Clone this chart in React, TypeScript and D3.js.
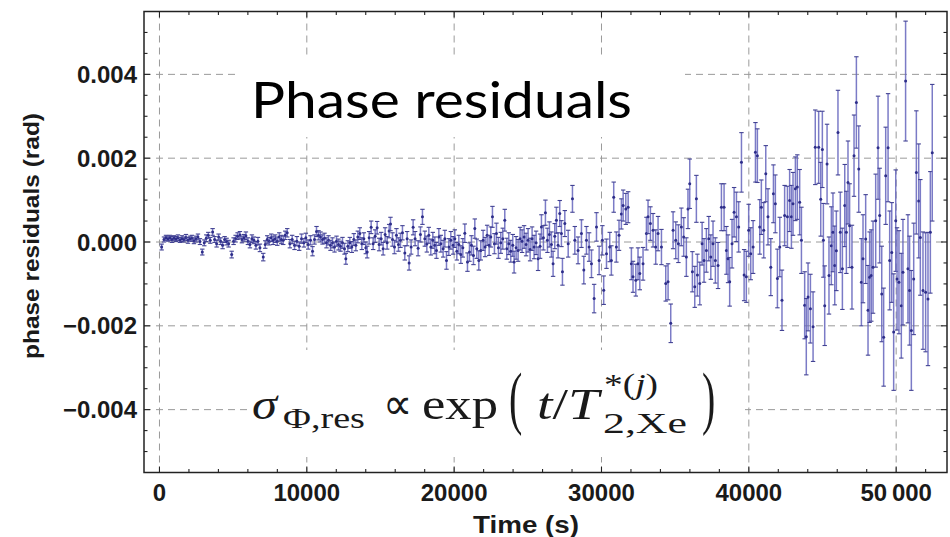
import React from "react";
import * as d3 from "d3";

const xTickValues = [0, 10000, 20000, 30000, 40000, 50000];
const xTickLabels = ["0", "10000", "20000", "30000", "40000", "50\u2009000"];
const yTickValues = [-0.004, -0.002, 0, 0.002, 0.004];
const yTickLabels = ["\u22120.004", "\u22120.002", "0.000", "0.002", "0.004"];

// [time (s), residual (1e-4 rad), sigma (1e-4 rad)]
const pointsEarly: [number, number, number][] = [
  [147,-1.2,0.7],[306,0.6,0.6],[441,1.0,0.6],[577,0.8,0.6],[713,1.0,0.6],[848,0.6,0.7],[984,0.9,0.6],[1120,0.7,0.6],[1255,1.0,0.7],[1391,0.5,0.6],[1527,0.8,0.7],[1662,0.6,0.6],[1798,1.1,0.7],[1934,0.4,0.7],[2069,0.8,0.6],[2205,0.9,0.7],[2340,0.3,0.7],[2476,0.7,0.7],[2612,1.2,0.7],[2747,0.1,0.7],[2906,-2.4,0.7],[3041,-0.2,0.7],[3177,0.9,0.8],[3313,1.6,0.7],[3448,0.4,0.7],[3607,2.4,0.8],[3742,0.6,0.7],[3878,-0.4,0.8],[4014,1.2,0.7],[4149,0.2,0.8],[4285,-0.8,0.8],[4421,0.6,0.7],[4556,0.1,0.8],[4692,-0.4,0.8],[4900,-3.0,0.8],[5031,0.2,0.8],[5167,0.8,0.8],[5302,1.4,0.8],[5460,1.7,0.8],[5596,0.6,0.8],[5732,1.0,0.8],[5867,1.5,0.9],[6003,0.2,0.8],[6139,-0.6,0.8],[6274,0.8,0.9],[6410,0.4,0.8],[6546,-0.8,0.9],[6682,0.2,0.9],[6817,-1.4,0.9],[7043,-3.6,0.9],[7179,-0.6,0.9],[7315,0.6,0.9],[7450,0.2,0.9],[7586,1.0,0.9],[7722,0.4,1.0],[7857,0.8,0.9],[7993,0.2,1.0],[8129,1.2,1.0],[8264,0.6,1.0],[8400,0.4,1.0],[8536,1.6,1.0],[8671,2.2,1.0],
];
const pointsSecond: [number, number, number][] = [
  [8850,-0.4,1.0],[9008,0.6,1.0],[9167,-0.8,1.0],[9325,0.2,1.1],[9483,-1.0,1.0],[9641,0.8,1.1],[9800,-0.2,1.0],[9935,1.0,1.1],[10094,-0.6,1.1],[10252,0.4,1.1],[10387,-2.2,1.1],[10523,0.6,1.1],[10659,2.5,1.2],[10794,1.6,1.1],[10930,1.2,1.2],[11066,0.6,1.1],[11201,0.9,1.2],[11337,-0.2,1.2],[11473,0.4,1.1],[11608,-0.8,1.2],[11744,-0.2,1.2],[11880,-1.2,1.2],[12015,0.2,1.2],[12151,-0.6,1.3],[12287,-1.0,1.2],[12422,-0.2,1.3],[12558,-1.6,1.3],[12648,-4.0,1.3],[12784,-1.0,1.3],[12920,-0.2,1.3],[13055,-1.2,1.3],[13191,0.6,1.4],[13327,-0.8,1.3],[13462,1.2,1.4],[13598,2.0,1.4],[13734,-0.4,1.4],[13869,0.8,1.4],[14005,-1.4,1.4],[14096,-2.4,1.4],[14231,1.0,1.5],[14367,3.5,1.5],[14503,-0.4,1.4],[14638,1.4,1.5],[14774,3.4,1.5],[14909,-0.6,1.5],[15045,0.8,1.5],[15181,-1.6,1.5],[15316,1.8,1.6],[15452,-0.2,1.5],[15588,2.6,1.6],[15678,4.3,1.6],[15814,0.6,1.6],[15950,-1.2,1.6],[16085,1.6,1.6],[16221,-0.6,1.6],[16357,0.4,1.7],[16492,2.2,1.7],[16650,-2.6,1.7],[16809,0.8,1.7],[16944,-5.0,1.7],[17080,-1.2,1.7],[17216,3.5,1.8],[17351,0.8,1.7],[17555,-1.5,1.8],[17713,1.8,1.8],[17849,6.0,1.8],
];
const pointsThird: [number, number, number][] = [
  [18010,0.8,1.8],[18146,-0.5,1.9],[18281,1.6,1.9],[18417,-1.2,1.9],[18553,0.4,1.9],[18688,-0.8,2.0],[18801,-2.0,1.9],[18960,1.2,2.0],[19095,-0.4,2.0],[19254,-1.6,2.0],[19367,0.8,2.0],[19480,-4.4,2.1],[19638,-1.2,2.0],[19774,0.4,2.1],[19932,-0.8,2.1],[20045,0.8,2.1],[20181,-2.2,2.1],[20316,-0.6,2.2],[20452,-3.0,2.1],[20588,-1.4,2.2],[20723,2.1,2.2],[20904,-4.8,2.2],[21040,-2.4,2.2],[21175,-0.8,2.3],[21311,-3.2,2.2],[21402,3.2,2.3],[21537,-1.6,2.3],[21673,-4.4,2.3],[21808,-2.0,2.3],[21967,0.4,2.4],[22102,-1.2,2.3],[22238,1.6,2.4],[22374,-0.8,2.4],[22487,1.2,2.4],[22600,6.0,2.5],[22735,-0.4,2.4],[22871,2.0,2.5],[23007,-1.4,2.5],[23165,-0.2,2.5],[23301,0.8,2.5],[23436,5.2,2.6],[23572,-1.6,2.5],[23708,-0.4,2.6],[23843,-2.2,2.6],[23979,-0.8,2.6],[24069,-4.8,2.6],[24205,-1.4,2.7],[24341,-2.0,2.6],[24476,0.8,2.7],[24612,0.2,2.7],[24748,1.2,2.7],[24883,-0.6,2.7],[25019,0.4,2.8],[25155,-1.8,2.7],[25290,0.8,2.8],[25426,-1.2,2.8],[25562,-0.2,2.8],[25697,-4.0,2.8],[25833,-1.0,2.9],[25924,3.6,2.9],[26059,1.0,2.9],[26195,7.0,3.0],[26331,0.4,2.9],[26466,1.8,3.0],[26602,-0.6,3.0],[26715,-5.2,3.0],[26828,1.4,3.0],[26941,5.2,3.1],[27054,-0.8,3.0],[27167,6.8,3.1],
];
const pointsFourth: [number, number, number][] = [
  [27280,2.0,3.1],[27350,-7.1,3.2],[27510,4.4,3.1],[27740,-0.4,3.2],[28030,10.3,3.2],[28190,0.4,3.3],[28410,-2.0,3.2],[28640,2.0,3.3],[28800,-6.7,3.3],[28980,0.4,3.3],[29160,-1.2,3.4],[29320,-5.2,3.3],[29500,-13.5,3.4],[29660,3.6,3.4],[29840,-4.4,3.4],[30060,0.4,3.5],[30150,-11.5,3.4],[30340,-2.8,3.5],[30560,-1.2,3.5],[30670,-4.4,3.5],[30830,10.7,3.6],[31010,-1.2,3.6],[31190,1.6,3.6],[31350,6.7,3.6],[31470,8.7,3.7],[31650,7.9,3.7],[31810,8.3,3.7],[32030,-5.2,3.8],[32140,-8.3,3.7],[32330,-9.1,3.8],[32480,-5.2,3.8],[32600,-7.5,3.9],[32820,-5.2,3.9],[33050,2.0,3.9],[33160,6.0,4.0],[33320,4.4,4.0],[33500,2.8,4.0],[33680,-1.2,4.1],[33840,2.0,4.1],[34070,-1.2,4.2],[34360,-9.9,4.2],[34520,-9.5,4.3],[34700,-19.4,4.6],[34860,2.8,4.4],[35040,0.4,4.4],[35220,-0.4,4.5],[35420,3.6,4.5],[35580,1.2,4.6],[35760,-3.6,4.6],[35870,7.9,4.7],[35990,13.9,5.9],[36170,-7.1,4.8],[36330,-10.7,4.9],
];
const pointsFifth: [number, number, number][] = [
  [36440,10.3,5.6],[36510,-7.9,5.0],[36670,-9.9,5.1],[36830,-0.4,5.1],[36960,-4.4,5.2],[37120,-2.0,5.2],[37280,0.8,5.3],[37420,-3.6,5.3],[37570,-0.4,5.4],[37730,-4.4,5.4],[37910,-5.6,5.5],[38140,8.3,5.6],[38320,8.3,5.6],[38480,-2.0,5.7],[38590,-4.0,5.7],[38700,-9.5,5.8],[38860,-0.4,5.8],[39000,7.1,5.9],[39160,6.0,5.9],[39310,3.6,6.0],[39500,19.0,7.1],[39680,-7.9,6.1],[39830,-8.3,6.1],[39990,2.8,6.2],[40130,-2.8,6.2],[40290,-1.2,6.3],[40450,21.4,7.1],[40580,20.6,6.4],[40740,3.6,6.5],[40850,8.3,6.5],[41010,2.8,6.6],[41150,16.3,6.7],[41300,6.0,6.7],[41490,-6.0,6.8],[41670,11.5,6.9],[41800,9.1,6.9],[41940,-8.7,7.0],[42100,-1.2,7.1],[42250,-13.9,7.2],[42430,6.3,7.2],[42620,6.0,7.3],[42770,9.9,7.4],[42890,6.0,7.5],[43000,9.1,7.5],[43160,12.7,7.6],[43290,13.1,7.7],[43450,9.5,7.8],[43570,0.4,7.9],[43790,-15.1,8.0],[43900,-22.6,9.1],[44020,-13.1,8.1],[44180,-15.9,8.2],[44360,-20.2,8.3],[44510,22.6,8.9],[44740,22.6,8.6],[45060,0.4,8.8],
];
const pointsLate: [number, number, number][] = [
  [44880,10.2,8.8],[44990,22.1,9.1],[45150,-15.2,9.5],[45310,18.6,9.5],[45440,-8.0,9.2],[45600,-0.9,9.3],[45710,2.3,9.4],[45830,-5.6,9.4],[45940,-2.1,9.5],[46050,26.1,10.1],[46210,2.3,9.6],[46350,-6.4,9.7],[46510,8.7,9.8],[46620,2.3,9.8],[46730,14.2,9.9],[46840,3.9,10.0],[47000,-6.0,10.0],[47140,20.6,9.7],[47300,33.3,10.9],[47460,17.4,10.3],[47640,-9.6,10.4],[47750,-4.0,10.5],[47930,0.7,10.6],[48090,-16.3,10.7],[48200,-8.4,10.8],[48310,-8.0,10.9],[48430,-6.0,11.0],[48610,5.1,11.1],[48770,22.5,12.3],[48880,6.3,11.3],[49020,-12.4,11.4],[49150,-22.7,11.7],[49290,15.8,11.6],[49450,22.5,12.9],[49560,-4.4,11.8],[49700,-2.5,11.9],[49830,-21.5,13.9],[49970,5.1,12.1],[50060,-8.8,12.2],[50190,-9.6,12.3],[50350,-15.2,12.5],[50460,-7.2,12.6],[50640,38.4,14.3],[50800,-6.4,12.9],[50910,-11.6,13.0],[51030,-21.1,14.3],[51190,-8.8,13.3],[51370,16.6,14.7],[51530,9.8,13.6],[51640,1.1,13.8],[51820,-11.6,14.0],[52000,-12.0,14.2],[52160,-13.6,15.9],[52320,2.3,14.5],[52450,21.3,16.3],
];

const FONT = "'Liberation Sans', Arial, sans-serif";
const SERIF = "'Liberation Serif', 'Times New Roman', serif";

export default function App() {
  const left = 144, right = 947, top = 11.5, bottom = 472.5;
  const x = d3.scaleLinear().domain([-1050, 53450]).range([left, right]);
  const y = d3.scaleLinear().domain([-0.0055, 0.0055]).range([bottom, top]);

  const pts = [...pointsEarly, ...pointsSecond, ...pointsThird, ...pointsFourth, ...pointsFifth, ...pointsLate]
    .map(([t, v, e]) => ({ t, v: v * 1e-4, e: e * 1e-4 }));

  const xMinor = d3.range(2000, 53000, 2000).filter((v) => v % 10000 !== 0);
  const yMinor = d3.range(-10, 11).filter((i) => i % 4 !== 0).map((i) => i * 0.0005);

  const gridColor = "#9a9a9a";
  const axisColor = "#222";
  const barColor = "rgb(100,100,188)";
  const capColor = "rgb(66,66,146)";
  const dotColor = "rgb(46,46,138)";

  return (
    <svg width={950} height={537} style={{ position: "absolute", left: 0, top: 0, background: "#fff" }}>
      <rect x={0} y={0} width={950} height={537} fill="#fff" />
      {/* grid */}
      <g stroke={gridColor} strokeWidth={1} strokeDasharray="7,5">
        {xTickValues.map((v) => (
          <line key={"gx" + v} x1={x(v)} x2={x(v)} y1={top} y2={bottom} />
        ))}
        {yTickValues.map((v) => (
          <line key={"gy" + v} x1={left} x2={right} y1={y(v)} y2={y(v)} />
        ))}
      </g>
      {/* white label boxes (cover grid) */}
      <rect x={236} y={58} width={449} height={79} fill="#fff" />
      <rect x={248} y={350} width={497} height={107} fill="#fff" />

      {/* data */}
      <g>
        {pts.map((p, i) => {
          const cx = x(p.t);
          const y1 = y(p.v + p.e);
          const y2 = y(p.v - p.e);
          return (
            <g key={i}>
              <line x1={cx} x2={cx} y1={y1} y2={y2} stroke={barColor} strokeWidth={1.5} strokeOpacity={0.85} />
              <line x1={cx - 2.2} x2={cx + 2.2} y1={y1} y2={y1} stroke={capColor} strokeWidth={1.1} />
              <line x1={cx - 2.2} x2={cx + 2.2} y1={y2} y2={y2} stroke={capColor} strokeWidth={1.1} />
              <circle cx={cx} cy={y(p.v)} r={1.5} fill={dotColor} />
            </g>
          );
        })}
      </g>

      {/* frame */}
      <rect x={left} y={top} width={right - left} height={bottom - top} fill="none" stroke={axisColor} strokeWidth={1.5} />
      {/* ticks */}
      <g stroke={axisColor} strokeWidth={1.1}>
        {xTickValues.map((v) => (
          <g key={"tx" + v}>
            <line x1={x(v)} x2={x(v)} y1={bottom} y2={bottom - 6} />
            <line x1={x(v)} x2={x(v)} y1={top} y2={top + 6} />
          </g>
        ))}
        {xMinor.map((v) => (
          <g key={"mx" + v}>
            <line x1={x(v)} x2={x(v)} y1={bottom} y2={bottom - 3.5} />
            <line x1={x(v)} x2={x(v)} y1={top} y2={top + 3.5} />
          </g>
        ))}
        {yTickValues.map((v) => (
          <g key={"ty" + v}>
            <line x1={left} x2={left + 6} y1={y(v)} y2={y(v)} />
            <line x1={right} x2={right - 6} y1={y(v)} y2={y(v)} />
          </g>
        ))}
        {yMinor.map((v) => (
          <g key={"my" + v}>
            <line x1={left} x2={left + 3.5} y1={y(v)} y2={y(v)} />
            <line x1={right} x2={right - 3.5} y1={y(v)} y2={y(v)} />
          </g>
        ))}
      </g>

      {/* tick labels */}
      <g fontFamily={FONT} fontWeight="bold" fontSize={24} fill="#1a1a1a">
        {yTickValues.map((v, i) => (
          <text key={"ly" + v} x={137} y={y(v)} textAnchor="end" dominantBaseline="central">
            {yTickLabels[i]}
          </text>
        ))}
        {xTickValues.map((v, i) => (
          <text key={"lx" + v} x={x(v)} y={501} textAnchor="middle">
            {xTickLabels[i]}
          </text>
        ))}
      </g>

      {/* axis titles */}
      <text x={526} y={533} textAnchor="middle" fontFamily={FONT} fontWeight="bold" fontSize={24} fill="#1a1a1a"
        textLength={106} lengthAdjust="spacingAndGlyphs">
        Time (s)
      </text>
      <text
        transform={`translate(31,236) rotate(-90)`}
        textAnchor="middle"
        dominantBaseline="central"
        fontFamily={FONT}
        fontWeight="bold"
        fontSize={22}
        fill="#1a1a1a"
        textLength={246}
        lengthAdjust="spacingAndGlyphs"
      >
        phase residuals (rad)
      </text>

      {/* title overlay */}
      <text x={251} y={118} fontFamily="'Comic Sans MS', Lato, sans-serif" fontSize={50} fill="#000"
        textLength={381} lengthAdjust="spacingAndGlyphs">
        Phase residuals
      </text>

      {/* formula */}
      <g fontFamily={SERIF} fill="#1a1a1a">
        <text x={252} y={419} fontSize={44} fontStyle="italic" textLength={25} lengthAdjust="spacingAndGlyphs">σ</text>
        <text x={283} y={428} fontSize={30} textLength={82} lengthAdjust="spacingAndGlyphs">Φ,res</text>
        <text x={383} y={419} fontSize={44} textLength={29} lengthAdjust="spacingAndGlyphs">∝</text>
        <text x={422} y={419} fontSize={44} textLength={76} lengthAdjust="spacingAndGlyphs">exp</text>
        <text transform="translate(509,421) scale(1,1.75)" fontSize={40}>(</text>
        <text x={537} y={419} fontSize={44} textLength={62} lengthAdjust="spacingAndGlyphs">
          <tspan fontStyle="italic">t</tspan>
          <tspan>/</tspan>
          <tspan fontStyle="italic">T</tspan>
        </text>
        <text x={604} y={394} fontSize={29} textLength={54} lengthAdjust="spacingAndGlyphs">
          <tspan>*(</tspan>
          <tspan fontStyle="italic">j</tspan>
          <tspan>)</tspan>
        </text>
        <text x={603} y={433} fontSize={29} textLength={84} lengthAdjust="spacingAndGlyphs">2,Xe</text>
        <text transform="translate(702,421) scale(1,1.75)" fontSize={40}>)</text>
      </g>
    </svg>
  );
}
